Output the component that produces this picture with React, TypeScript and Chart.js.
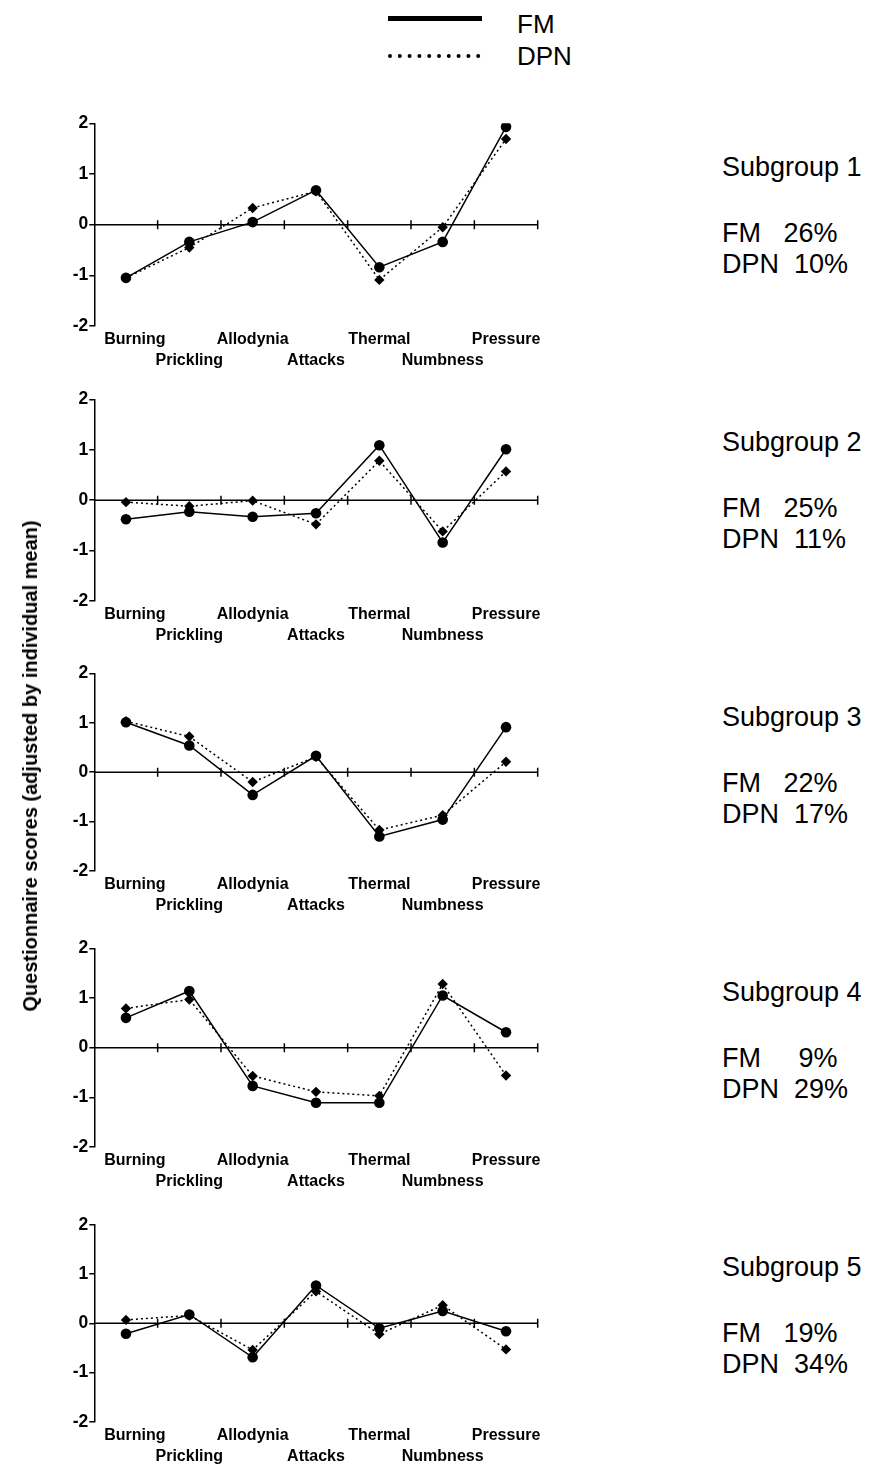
import React, { useEffect, useRef } from "react";
import { Chart, registerables } from "chart.js";

Chart.register(...registerables);

// ---------- data ----------
const categories = ["Burning", "Prickling", "Allodynia", "Attacks", "Thermal", "Numbness", "Pressure"];

const fm1 = [-1.05, -0.34, 0.05, 0.68, -0.84, -0.34, 1.93];
const dpn1 = [-1.05, -0.45, 0.33, 0.66, -1.09, -0.05, 1.69];
const fm2 = [-0.38, -0.23, -0.33, -0.26, 1.09, -0.84, 1.01];
const dpn2 = [-0.04, -0.12, -0.01, -0.48, 0.78, -0.62, 0.57];
const fm3 = [1.01, 0.54, -0.46, 0.33, -1.3, -0.96, 0.91];
const dpn3 = [1.03, 0.72, -0.2, 0.31, -1.17, -0.87, 0.21];
const fm4 = [0.6, 1.14, -0.77, -1.11, -1.11, 1.05, 0.31];
const dpn4 = [0.79, 0.97, -0.57, -0.89, -0.97, 1.28, -0.56];
const fm5 = [-0.21, 0.18, -0.69, 0.77, -0.1, 0.25, -0.16];
const dpn5 = [0.07, 0.16, -0.54, 0.65, -0.22, 0.37, -0.53];

const fmSeries = [fm1, fm2, fm3, fm4, fm5];
const dpnSeries = [dpn1, dpn2, dpn3, dpn4, dpn5];

const subgroupNames = ["Subgroup 1", "Subgroup 2", "Subgroup 3", "Subgroup 4", "Subgroup 5"];
const fmPercentLabels = ["FM   26%", "FM   25%", "FM   22%", "FM     9%", "FM   19%"];
const dpnPercentLabels = ["DPN  10%", "DPN  11%", "DPN  17%", "DPN  29%", "DPN  34%"];

const yMin = -2;
const yMax = 2;
const yStep = 1;

const legendLabels = ["FM", "DPN"];
const yTitle = "Questionnaire scores (adjusted by individual mean)";

// ---------- layout ----------
const FONT = "'Liberation Sans', Arial, Helvetica, sans-serif";
const panelTop = [123.3, 399.3, 673.3, 948.3, 1225];
const panelBottom = [326, 601, 871, 1147, 1421.7];
const CANVAS_LEFT = 40;
const CANVAS_W = 530;
const AREA_LEFT = 94.3;
const AREA_RIGHT = 537.7;

const zeroAxisPlugin = {
  id: "zeroAxis",
  beforeDatasetsDraw(chart: any) {
    const { ctx, chartArea, scales } = chart;
    const x = scales.x;
    const y = scales.y;
    const y0 = y.getPixelForValue(0);
    ctx.save();
    ctx.strokeStyle = "#000";
    ctx.lineWidth = 1.5;
    ctx.beginPath();
    ctx.moveTo(chartArea.left, y0);
    ctx.lineTo(chartArea.right, y0);
    for (let i = 0; i < categories.length; i++) {
      const px = x.getPixelForValue(i + 0.5);
      ctx.moveTo(px, y0 - 4.5);
      ctx.lineTo(px, y0 + 4.5);
    }
    ctx.stroke();
    ctx.restore();
  },
};

function Panel({ idx }: { idx: number }) {
  const ref = useRef<HTMLCanvasElement | null>(null);
  const top = panelTop[idx];
  const bottom = panelBottom[idx];
  const canvasTop = Math.floor(top - 12);
  const padTop = top - canvasTop;
  const plotH = bottom - top;
  const canvasH = Math.ceil(padTop + plotH + 50);
  const xAxisH = canvasH - padTop - plotH;

  useEffect(() => {
    const canvas = ref.current!;
    const chart = new Chart(canvas, {
      type: "line",
      data: {
        labels: categories,
        datasets: [
          {
            label: "FM",
            data: fmSeries[idx],
            borderColor: "#000",
            backgroundColor: "#000",
            borderWidth: 1.5,
            pointStyle: "circle",
            pointRadius: 5.3,
            pointBorderWidth: 0,
            pointBackgroundColor: "#000",
            tension: 0,
          },
          {
            label: "DPN",
            data: dpnSeries[idx],
            borderColor: "#000",
            backgroundColor: "#000",
            borderWidth: 1.5,
            borderDash: [2, 3],
            pointStyle: "rectRot",
            pointRadius: 5.2,
            pointBorderWidth: 0,
            pointBackgroundColor: "#000",
            tension: 0,
          },
        ],
      },
      options: {
        animation: false,
        responsive: false,
        maintainAspectRatio: false,
        layout: {
          padding: { top: padTop, left: 0, bottom: 0, right: CANVAS_W - (AREA_RIGHT - CANVAS_LEFT) },
        },
        plugins: { legend: { display: false }, tooltip: { enabled: false } },
        scales: {
          x: {
            type: "category",
            offset: true,
            grid: { display: false, drawTicks: false, tickLength: 0 },
            border: { display: false },
            ticks: {
              autoSkip: false,
              maxRotation: 0,
              minRotation: 0,
              padding: 3.5,
              color: "#000",
              font: { family: FONT, size: 16, weight: "bold", lineHeight: 21 / 16 },
              callback: (_v: any, i: number) => {
                const label = i === 0 ? "    " + categories[i] : categories[i];
                return i % 2 === 0 ? [label, ""] : ["", label];
              },
            },
            afterFit: (s: any) => {
              s.height = xAxisH;
            },
          },
          y: {
            min: yMin,
            max: yMax,
            ticks: {
              stepSize: yStep,
              padding: 1,
              color: "#000",
              font: { family: FONT, size: 17.5, weight: "bold" },
            },
            grid: {
              drawOnChartArea: false,
              drawTicks: true,
              tickLength: 5,
              color: "#000",
              lineWidth: 1.5,
            },
            border: { display: true, color: "#000", width: 1.5 },
            afterFit: (s: any) => {
              s.width = AREA_LEFT - CANVAS_LEFT;
            },
          },
        },
      } as any,
      plugins: [zeroAxisPlugin],
    });
    return () => chart.destroy();
  }, [idx]);

  return (
    <canvas
      ref={ref}
      width={CANVAS_W}
      height={canvasH}
      style={{ position: "absolute", left: CANVAS_LEFT, top: canvasTop, width: CANVAS_W, height: canvasH }}
    />
  );
}

function LegendLines() {
  const ref = useRef<HTMLCanvasElement | null>(null);
  useEffect(() => {
    const ctx = ref.current!.getContext("2d")!;
    ctx.clearRect(0, 0, 110, 70);
    ctx.strokeStyle = "#000";
    ctx.lineWidth = 5;
    ctx.beginPath();
    ctx.moveTo(8, 18.5);
    ctx.lineTo(102, 18.5);
    ctx.stroke();
    ctx.lineWidth = 4;
    ctx.lineCap = "round";
    ctx.setLineDash([0, 9.8]);
    ctx.beginPath();
    ctx.moveTo(10, 56);
    ctx.lineTo(99, 56);
    ctx.stroke();
  }, []);
  return (
    <canvas ref={ref} width={110} height={70} style={{ position: "absolute", left: 380, top: 0, width: 110, height: 70 }} />
  );
}

function Txt({ x, cy, size, bold, children }: any) {
  return (
    <div
      style={{
        position: "absolute",
        left: x,
        top: cy - 0.488 * size,
        fontFamily: FONT,
        fontSize: size,
        lineHeight: `${size}px`,
        fontWeight: bold ? "bold" : "normal",
        whiteSpace: "pre",
        color: "#000",
      }}
    >
      {children}
    </div>
  );
}

export default function App() {
  return (
    <div style={{ position: "absolute", left: 0, top: 0, width: 873, height: 1465, background: "#fff", overflow: "hidden" }}>
      <LegendLines />
      <Txt x={517} cy={24} size={26}>{legendLabels[0]}</Txt>
      <Txt x={517} cy={56} size={26}>{legendLabels[1]}</Txt>

      {subgroupNames.map((_, i) => (
        <Panel key={i} idx={i} />
      ))}

      {subgroupNames.map((name, i) => (
        <React.Fragment key={"t" + i}>
          <Txt x={722} cy={167 + 275 * i} size={27}>{name}</Txt>
          <Txt x={722} cy={233.5 + 275 * i} size={27}>{fmPercentLabels[i]}</Txt>
          <Txt x={722} cy={264 + 275 * i} size={27}>{dpnPercentLabels[i]}</Txt>
        </React.Fragment>
      ))}

      <div
        style={{
          position: "absolute",
          left: 29.5,
          top: 766,
          transform: "translate(-50%, -50%) rotate(-90deg)",
          fontFamily: FONT,
          fontSize: 20,
          fontWeight: "bold",
          whiteSpace: "nowrap",
          lineHeight: "20px",
        }}
      >
        {yTitle}
      </div>
    </div>
  );
}
